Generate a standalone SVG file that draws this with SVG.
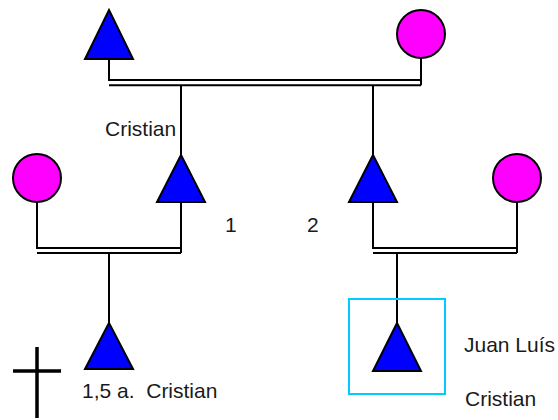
<svg xmlns="http://www.w3.org/2000/svg" width="558" height="420" viewBox="0 0 558 420">
<style>
.m{fill:#0000ff;stroke:#000;stroke-width:2;stroke-linejoin:miter}
.f{fill:#ff00ff;stroke:#000;stroke-width:2}
.l{stroke:#000;stroke-width:2;fill:none}
text{font-family:"Liberation Sans",Arial,sans-serif;font-size:21px;fill:#1a1a1a}
</style>
<rect width="558" height="420" fill="#fff"/>
<g id="connectors">
<path class="l" d="M109,59V80H421M109,85.3H421M421,58V85.3"/>
<path class="l" d="M181,85.3V155M373,85.3V155"/>
<path class="l" d="M37,202V248H181M37,253H181M181,203V253"/>
<path class="l" d="M109,253V323"/>
<path class="l" d="M373,203V248H517M373,253H517M517,202V253"/>
<path class="l" d="M397,253V323"/>
</g>
<g id="grandfather"><polygon class="m" points="109,10 133,59 85,59"/></g>
<g id="grandmother"><circle class="f" cx="421" cy="34" r="24"/></g>
<g id="father-cristian"><polygon class="m" points="181,155 205,202 157,202"/><text x="105" y="136">Cristian</text></g>
<g id="uncle"><polygon class="m" points="373,155 397,202 349,202"/></g>
<g id="wife1"><circle class="f" cx="37" cy="178" r="24"/></g>
<g id="wife2"><circle class="f" cx="517" cy="178" r="24"/></g>
<g id="label1"><text x="225" y="232">1</text></g>
<g id="label2"><text x="307" y="232">2</text></g>
<g id="child-deceased"><polygon class="m" points="109,323 133,369 85,369"/>
<text x="82" y="398" xml:space="preserve">1,5 a.  Cristian</text></g>
<g id="cross"><path stroke="#000" stroke-width="3.5" d="M37,347V418M13,371H61"/></g>
<g id="child-juan"><rect x="349" y="299" width="96" height="95" fill="none" stroke="#00ccff" stroke-width="2"/>
<polygon class="m" points="397,323 421,371 373,371"/>
<text x="464" y="352">Juan Luís</text>
<text x="465" y="406">Cristian</text></g>
</svg>
